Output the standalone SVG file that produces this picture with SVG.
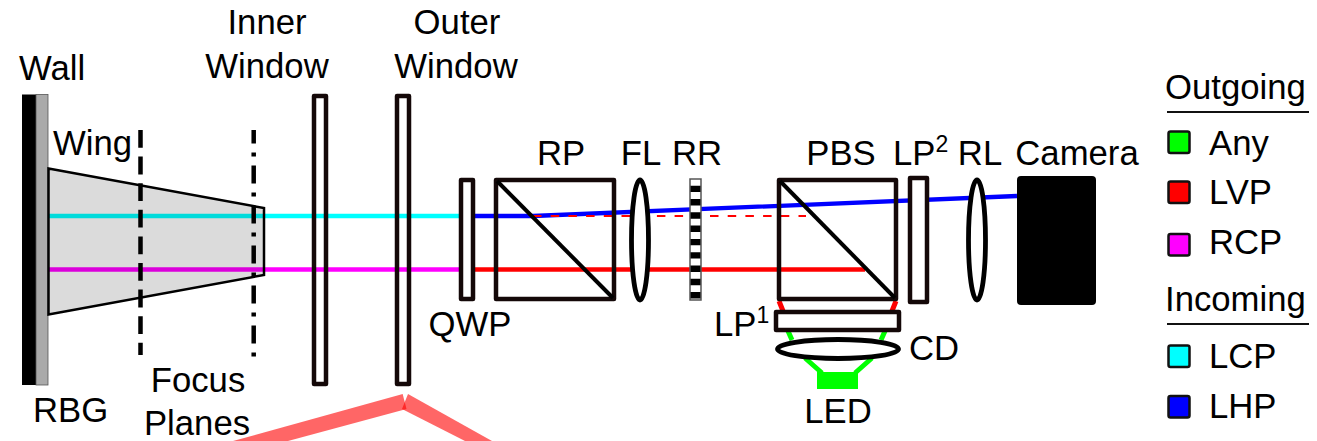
<svg xmlns="http://www.w3.org/2000/svg" width="1317" height="441" viewBox="0 0 1317 441">
<style>
text{font-family:"Liberation Sans",Arial,sans-serif;font-size:34.700px;fill:#000}
.m{text-anchor:middle}
.sup{font-size:23px}
.o{fill:none;stroke:#140808;stroke-width:4.500;stroke-linejoin:round}
.w{fill:#fff;stroke:#140808;stroke-width:4.500;stroke-linejoin:round}
.k{fill:#fff;stroke:#000;stroke-width:4.800}
.sw{stroke:#111;stroke-width:2.500}
.ray{fill:none;stroke-width:4.300}
.glow{fill:#f00;fill-opacity:.6}
</style>
<rect width="1317" height="441" fill="#fff"/>
<g id="connectors">
<path class="ray" stroke="#0ff" d="M48 216H461"/>
<path class="ray" stroke="#f0f" d="M48 269.500H461"/>
<path class="ray" stroke="#00f" stroke-width="4.800" d="M473 216H533L1017 196"/>
<path class="ray" stroke="#f00" d="M473 269.500H865"/>
<path fill="none" stroke="#f00" stroke-width="2" stroke-dasharray="8.500 9.200" d="M533 216H806"/>
<path fill="none" stroke="#f00" stroke-width="5" d="M779 301L783 311M896 301L892 311"/>
<path fill="none" stroke="#0f0" stroke-width="5" d="M788 331L792 340M885 331L881 340M805 358L822 373M872 358L855 373"/>
</g>
<g id="beam"><polygon class="glow" points="402.700,394 406.500,409 288,441 233,441"/><polygon class="glow" points="408,394 402,409 465,441 492,441"/></g>
<g id="wall"><rect x="22" y="94.500" width="14" height="290.500" fill="#000"/><rect x="36" y="94.500" width="12" height="290.500" fill="#aaa" stroke="#555" stroke-width=".8"/><text x="19" y="80">Wall</text><text x="33" y="422">RBG</text></g>
<g id="wing"><polygon points="48.500,168.500 264,208 264,275 48.500,314.500" fill="#000" fill-opacity=".14" stroke="#000" stroke-width="2.500"/><text x="53" y="155">Wing</text></g>
<g id="focus-planes"><line x1="140.500" y1="130" x2="140.500" y2="355" stroke="#000" stroke-width="4.500" stroke-dasharray="17.800 8.800"/><line x1="253.700" y1="130" x2="253.700" y2="356.500" stroke="#000" stroke-width="4.500" stroke-dasharray="18 9 4 9" stroke-dashoffset="4.500"/><text class="m" x="198" y="392">Focus</text><text class="m" x="197" y="435">Planes</text></g>
<g id="inner-window"><rect class="o" x="314" y="96" width="12" height="288"/><text class="m" x="267" y="34">Inner</text><text class="m" x="267" y="78">Window</text></g>
<g id="outer-window"><rect class="o" x="397" y="96" width="12" height="288"/><text class="m" x="457" y="34">Outer</text><text class="m" x="456" y="78">Window</text></g>
<g id="qwp"><rect class="w" x="461" y="180" width="12" height="119"/><text class="m" x="470" y="336">QWP</text></g>
<g id="rp"><rect class="o" x="496" y="180" width="118" height="119"/><line x1="497" y1="181" x2="613" y2="298" stroke="#000" stroke-width="4"/><text class="m" x="561" y="165">RP</text></g>
<g id="fl"><ellipse class="k" cx="640" cy="240" rx="8.500" ry="60"/><text class="m" x="641" y="165">FL</text></g>
<g id="rr"><rect x="690" y="179" width="11" height="121" fill="#fff" stroke="#555" stroke-width="1.500"/><line x1="695.500" y1="185.700" x2="695.500" y2="299" stroke="#000" stroke-width="10" stroke-dasharray="6.400 6.900"/><text class="m" x="697" y="165">RR</text></g>
<g id="pbs"><rect class="o" x="779" y="180" width="117" height="119"/><line x1="780" y1="181" x2="895" y2="298" stroke="#000" stroke-width="4"/><text class="m" x="841" y="165">PBS</text></g>
<g id="lp2"><rect class="w" x="910" y="178" width="17" height="124"/><text x="893" y="165">LP<tspan class="sup" dy="-13">2</tspan></text></g>
<g id="rl"><ellipse class="k" cx="977" cy="240" rx="8.500" ry="60"/><text class="m" x="980" y="165">RL</text></g>
<g id="camera"><rect x="1017" y="176" width="79" height="129" rx="4" fill="#000"/><text class="m" x="1077" y="165">Camera</text></g>
<g id="lp1"><rect class="w" x="776" y="312" width="123" height="18"/><text x="714" y="336">LP<tspan class="sup" dy="-13">1</tspan></text></g>
<g id="cd"><ellipse class="k" cx="838" cy="349" rx="60.500" ry="9.500"/><text x="909" y="360">CD</text></g>
<g id="led"><rect x="817" y="372" width="41" height="17" fill="#0f0"/><text class="m" x="838" y="423">LED</text></g>
<g id="legend">
<text x="1165" y="99">Outgoing</text><line x1="1167" y1="112" x2="1309" y2="112" stroke="#111" stroke-width="2"/>
<rect class="sw" x="1168.500" y="131.500" width="21" height="21.500" rx="2" fill="#0f0"/><text x="1209" y="155">Any</text>
<rect class="sw" x="1168.500" y="181.500" width="21" height="21.500" rx="2" fill="#f00"/><text x="1209" y="204">LVP</text>
<rect class="sw" x="1168.500" y="234" width="21" height="21.500" rx="2" fill="#f0f"/><text x="1209" y="254">RCP</text>
<text x="1165" y="311">Incoming</text><line x1="1167" y1="324" x2="1309" y2="324" stroke="#111" stroke-width="2"/>
<rect class="sw" x="1168.500" y="345.500" width="21" height="21.500" rx="2" fill="#0ff"/><text x="1209" y="368">LCP</text>
<rect class="sw" x="1168.500" y="396" width="21" height="21.500" rx="2" fill="#00f"/><text x="1209" y="418">LHP</text>
</g>
</svg>
